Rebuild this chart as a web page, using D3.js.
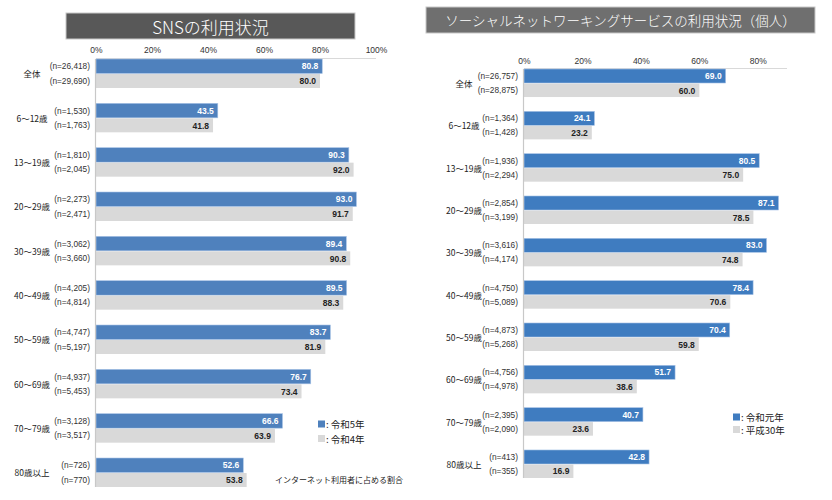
<!DOCTYPE html>
<html><head><meta charset="utf-8">
<script src="https://cdn.jsdelivr.net/npm/d3@7"></script>
<style>body{margin:0;background:#fff}svg{display:block;font-family:"Noto Sans CJK JP","Noto Sans",sans-serif}</style>
</head><body>
<svg id="c" width="832" height="500"></svg>
<script>
// ---- Left chart data ----
const leftTitle = "SNSの利用状況";
const leftCategories = ["全体","6～12歳","13～19歳","20～29歳","30～39歳","40～49歳","50～59歳","60～69歳","70～79歳","80歳以上"];
const leftSeriesNames = ["令和5年","令和4年"];
const leftValuesA = [80.8,43.5,90.3,93.0,89.4,89.5,83.7,76.7,66.6,52.6];
const leftValuesB = [80.0,41.8,92.0,91.7,90.8,88.3,81.9,73.4,63.9,53.8];
const leftNA = ["26,418","1,530","1,810","2,273","3,062","4,205","4,747","4,937","3,128","726"];
const leftNB = ["29,690","1,763","2,045","2,471","3,660","4,814","5,197","5,453","3,517","770"];
const leftTicks = [0,20,40,60,80,100];
const leftNote = "インターネット利用者に占める割合";

// ---- Right chart data ----
const rightTitle = "ソーシャルネットワーキングサービスの利用状況（個人）";
const rightCategories = ["全体","6～12歳","13～19歳","20～29歳","30～39歳","40～49歳","50～59歳","60～69歳","70～79歳","80歳以上"];
const rightSeriesNames = ["令和元年","平成30年"];
const rightValuesA = [69.0,24.1,80.5,87.1,83.0,78.4,70.4,51.7,40.7,42.8];
const rightValuesB = [60.0,23.2,75.0,78.5,74.8,70.6,59.8,38.6,23.6,16.9];
const rightNA = ["26,757","1,364","1,936","2,854","3,616","4,750","4,873","4,756","2,395","413"];
const rightNB = ["28,875","1,428","2,294","3,199","4,174","5,089","5,268","4,978","2,090","355"];
const rightTicks = [0,20,40,60,80];

const LATIN = "Arial,'Liberation Sans',sans-serif";
const svg = d3.select("#c");

function panel(cfg){
  const g = svg.append("g");
  // title
  g.append("rect").attr("x",cfg.title.x).attr("y",cfg.title.y).attr("width",cfg.title.w).attr("height",cfg.title.h)
    .attr("fill",cfg.title.fill).attr("stroke","#c8c8c8").attr("stroke-width",1);
  g.append("text").attr("x",cfg.title.x+cfg.title.w/2).attr("y",cfg.title.y+cfg.title.h/2)
    .attr("text-anchor","middle").attr("dominant-baseline","central")
    .attr("fill","#fff").attr("font-size",cfg.title.fs).attr("font-weight",cfg.title.fw).text(cfg.titleText);

  const x = d3.scaleLinear().domain(cfg.xDomain).range(cfg.xRange);
  const y = d3.scaleBand().domain(cfg.cats).range(cfg.yRange).paddingInner(cfg.pad).paddingOuter(0).align(0);
  const ys = d3.scaleBand().domain(["a","b"]).range([0,y.bandwidth()]);

  // tick labels
  const ax = d3.axisTop(x).tickValues(cfg.ticks).tickFormat(d=>d+"%").tickSize(0).tickPadding(0);
  const axg = g.append("g").attr("transform",`translate(0,${cfg.tickY})`).call(ax);
  axg.select(".domain").remove();
  axg.attr("font-family",null).attr("font-size",null);
  axg.selectAll("text").style("font-size","8.5px").attr("fill","#333").style("font-family",LATIN).attr("dy","0.35em");

  const top = cfg.yRange[0], bottom = y(cfg.cats[cfg.cats.length-1]) + y.bandwidth();
  g.append("line").attr("x1",x(0)).attr("x2",cfg.xRange[1]).attr("y1",top-0.5).attr("y2",top-0.5).attr("stroke","#d9d9d9");

  const rows = cfg.cats.map((c,i)=>({c,a:cfg.A[i],b:cfg.B[i],na:cfg.NA[i],nb:cfg.NB[i]}));
  const grp = g.selectAll(".grp").data(rows).enter().append("g").attr("transform",d=>`translate(0,${y(d.c)})`);
  const bh = ys.bandwidth();
  grp.append("rect").attr("x",x(0)).attr("y",ys("a")).attr("height",bh).attr("width",d=>x(d.a)-x(0))
     .attr("fill",cfg.blue).attr("stroke","#a9c4e6").attr("stroke-width",0.6);
  grp.append("rect").attr("x",x(0)).attr("y",ys("b")+0.5).attr("height",bh-0.5).attr("width",d=>x(d.b)-x(0))
     .attr("fill","#d9d9d9");
  grp.append("text").attr("x",d=>x(d.a)-4).attr("y",ys("a")+bh/2).attr("text-anchor","end").attr("dominant-baseline","central")
     .style("font-size","8.5px").attr("font-weight","bold").attr("fill","#fff").style("font-family",LATIN).text(d=>d.a.toFixed(1));
  grp.append("text").attr("x",d=>x(d.b)-4).attr("y",ys("b")+bh/2+0.5).attr("text-anchor","end").attr("dominant-baseline","central")
     .style("font-size","8.5px").attr("font-weight","bold").attr("fill","#222").style("font-family",LATIN).text(d=>d.b.toFixed(1));
  grp.append("text").attr("x",cfg.nX).attr("y",ys("a")+bh/2).attr("text-anchor","end").attr("dominant-baseline","central")
     .style("font-size","8.3px").attr("fill","#333").style("font-family",LATIN).text(d=>`(n=${d.na})`);
  grp.append("text").attr("x",cfg.nX).attr("y",ys("b")+bh/2).attr("text-anchor","end").attr("dominant-baseline","central")
     .style("font-size","8.3px").attr("fill","#333").style("font-family",LATIN).text(d=>`(n=${d.nb})`);
  grp.append("text").attr("x",cfg.catX).attr("y",y.bandwidth()/2).attr("text-anchor","middle").attr("dominant-baseline","central")
     .attr("font-size",8.5).attr("fill","#222").text(d=>d.c);

  g.append("line").attr("x1",x(0)-0.5).attr("x2",x(0)-0.5).attr("y1",top).attr("y2",bottom).attr("stroke","#c8c8c8").attr("stroke-width",1.2);

  // legend
  const lg = g.append("g").attr("transform",`translate(${cfg.legend.x},${cfg.legend.y})`);
  [cfg.blue,"#d9d9d9"].forEach((col,i)=>{
    lg.append("rect").attr("x",0).attr("y",i*cfg.legend.dy-3.5).attr("width",7).attr("height",7).attr("fill",col);
    lg.append("text").attr("x",8).attr("y",i*cfg.legend.dy).attr("dominant-baseline","central")
      .attr("font-size",9.5).attr("fill","#222").text(": "+cfg.series[i]);
  });
  if(cfg.note){
    g.append("text").attr("x",cfg.note.x).attr("y",cfg.note.y).attr("dominant-baseline","central")
     .attr("font-size",8).attr("fill","#222").text(cfg.note.text);
  }
}

panel({
  titleText:leftTitle, title:{x:66,y:13,w:289,h:26,fill:"#585858",fs:17,fw:300},
  cats:leftCategories, A:leftValuesA, B:leftValuesB, NA:leftNA, NB:leftNB, series:leftSeriesNames,
  ticks:leftTicks, xDomain:[0,100], xRange:[96,376], yRange:[59,487], pad:0.346,
  tickY:50, nX:90, catX:32, blue:"#4f81bd",
  legend:{x:318,y:424,dy:14.5}, note:{x:275,y:479,text:leftNote}
});
panel({
  titleText:rightTitle, title:{x:426,y:7,w:389,h:26,fill:"#6f6f6f",fs:13.5,fw:300},
  cats:rightCategories, A:rightValuesA, B:rightValuesB, NA:rightNA, NB:rightNB, series:rightSeriesNames,
  ticks:rightTicks, xDomain:[0,90], xRange:[524,787], yRange:[69,478], pad:0.338,
  tickY:61, nX:518, catX:464, blue:"#3f7cc0",
  legend:{x:733,y:417,dy:12.5}, note:null
});
</script>
</body></html>
